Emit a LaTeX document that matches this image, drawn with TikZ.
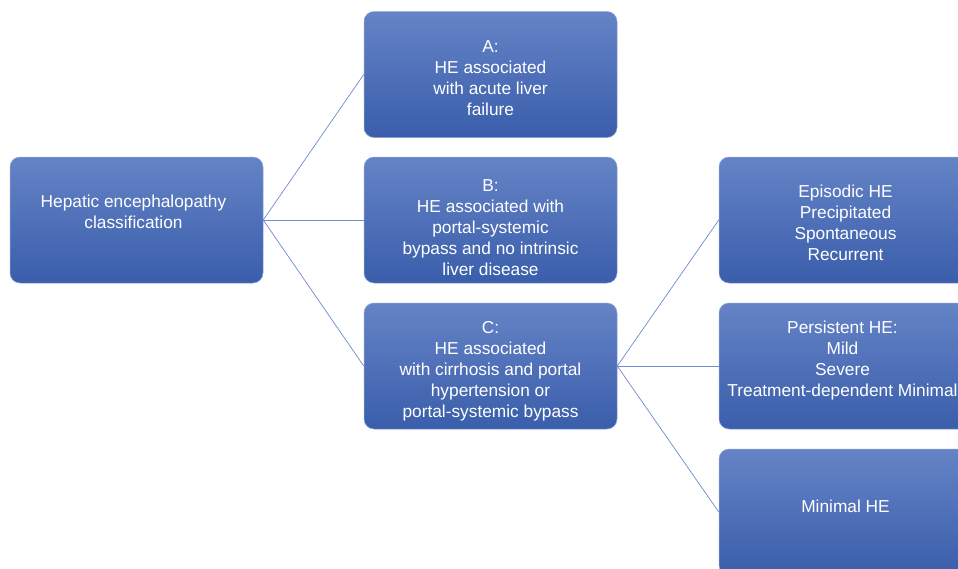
\documentclass[tikz,border=0pt]{standalone}
\usepackage{fontspec}
\setmainfont{Liberation Sans}
\definecolor{boxtop}{RGB}{101,131,198}
\definecolor{boxbot}{RGB}{58,94,171}
\definecolor{boxedge}{RGB}{140,165,215}
\definecolor{linkcol}{RGB}{110,140,205}
\tikzset{
  hebox/.style={rectangle, rounded corners=10pt, minimum width=253pt, minimum height=126pt,
    top color=boxtop, bottom color=boxbot, draw=boxedge, line width=0.5pt, inner sep=0pt},
  hetext/.style={text=white, align=center, font=\fontsize{17.3}{21}\selectfont, inner sep=0pt},
  link/.style={draw=linkcol, line width=0.7pt}
}
\begin{document}
\begin{tikzpicture}[x=1pt,y=-1pt]
\useasboundingbox (0,0) rectangle (958,568);
\clip (0,0) rectangle (958,568);
\fill[white] (0,0) rectangle (958,568);
\node[hebox] (root) at (136.5,220) {};
\node[hebox] (A) at (490.5,74.5) {};
\node[hebox] (B) at (490.5,220) {};
\node[hebox] (C) at (490.5,366) {};
\node[hebox] (E) at (845.5,220) {};
\node[hebox] (P) at (845.5,366) {};
\node[hebox] (M) at (845.5,512) {};
\node[hetext] (troot) at ([xshift=-3pt,yshift=8pt]root.center) {Hepatic encephalopathy\\classification};
\node[hetext] (tA) at ([yshift=-4pt]A.center) {A:\\HE associated\\with acute liver\\failure};
\node[hetext] (tB) at ([yshift=-7.5pt]B.center) {B:\\HE associated with\\portal-systemic\\bypass and no intrinsic\\liver disease};
\node[hetext] (tC) at ([yshift=-5pt]C.center) {C:\\HE associated\\with cirrhosis and portal\\hypertension or\\portal-systemic bypass};
\node[hetext] (tE) at ([yshift=-2.5pt]E.center) {Episodic HE\\Precipitated\\Spontaneous\\Recurrent};
\node[hetext] (tP) at ([xshift=-3pt,yshift=5.5pt]P.center) {Persistent HE:\\Mild\\Severe\\Treatment-dependent Minimal};
\node[hetext] (tM) at ([yshift=6pt]M.center) {Minimal HE};
\draw[link] (root.east) -- (A.west);
\draw[link] (root.east) -- (B.west);
\draw[link] (root.east) -- (C.west);
\draw[link] (C.east) -- (E.west);
\draw[link] (C.east) -- (P.west);
\draw[link] (C.east) -- (M.west);
\end{tikzpicture}
\end{document}
